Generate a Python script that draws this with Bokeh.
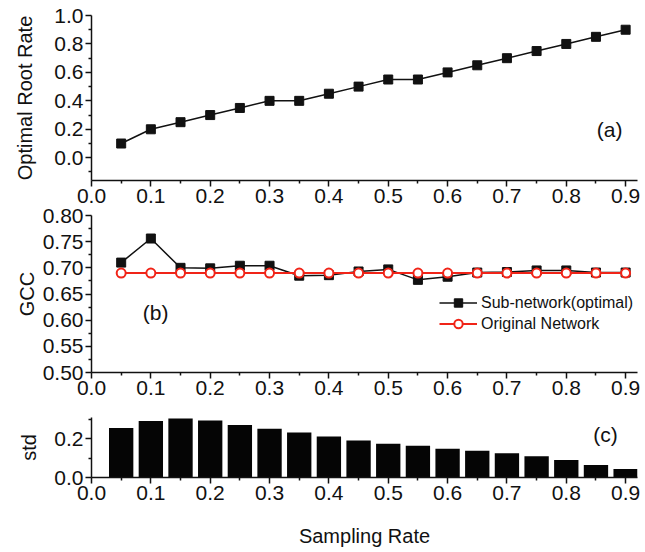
from bokeh.plotting import figure
from bokeh.layouts import column
from bokeh.models import FixedTicker, Label, Legend, LegendItem, Range1d, NumeralTickFormatter
from bokeh.embed import file_html
from bokeh.resources import INLINE

# ---------------- data ----------------
rate = [0.05, 0.10, 0.15, 0.20, 0.25, 0.30, 0.35, 0.40, 0.45,
        0.50, 0.55, 0.60, 0.65, 0.70, 0.75, 0.80, 0.85, 0.90]
root_rate = [0.10, 0.20, 0.25, 0.30, 0.35, 0.40, 0.40, 0.45, 0.50,
             0.55, 0.55, 0.60, 0.65, 0.70, 0.75, 0.80, 0.85, 0.90]
gcc_sub = [0.710, 0.756, 0.700, 0.699, 0.704, 0.704, 0.685, 0.686, 0.693,
           0.697, 0.677, 0.683, 0.691, 0.692, 0.695, 0.695, 0.691, 0.691]
gcc_orig = [0.690, 0.690, 0.690, 0.690, 0.690, 0.690, 0.690, 0.690, 0.690,
            0.690, 0.690, 0.690, 0.690, 0.690, 0.690, 0.690, 0.690, 0.690]
std = [0.256, 0.292, 0.305, 0.294, 0.271, 0.252, 0.232, 0.212, 0.191,
       0.174, 0.164, 0.148, 0.138, 0.125, 0.110, 0.091, 0.065, 0.044]

x_major = [0.0, 0.1, 0.2, 0.3, 0.4, 0.5, 0.6, 0.7, 0.8, 0.9]
x_minor = [0.05, 0.15, 0.25, 0.35, 0.45, 0.55, 0.65, 0.75, 0.85]
a_major = [0.0, 0.2, 0.4, 0.6, 0.8, 1.0]
a_minor = [-0.1, 0.1, 0.3, 0.5, 0.7, 0.9]
b_major = [0.50, 0.55, 0.60, 0.65, 0.70, 0.75, 0.80]
b_minor = [0.525, 0.575, 0.625, 0.675, 0.725, 0.775]
c_major = [0.0, 0.2]
c_minor = [0.1, 0.3]

FONT = "Liberation Sans"
TICK_FS = "21px"
TITLE_FS = "20px"
BLACK = "#111111"
RED = "#f02418"


def style(p, xfmt, yfmt, xmaj, xmin, ymaj, ymin, ylab_standoff):
    p.outline_line_color = None
    p.grid.visible = False
    p.xaxis.ticker = FixedTicker(ticks=xmaj, minor_ticks=xmin)
    p.yaxis.ticker = FixedTicker(ticks=ymaj, minor_ticks=ymin)
    p.xaxis.formatter = NumeralTickFormatter(format=xfmt)
    p.yaxis.formatter = NumeralTickFormatter(format=yfmt)
    for ax in (p.xaxis, p.yaxis):
        ax.axis_line_color = BLACK
        ax.axis_line_width = 1.5
        ax.major_tick_line_color = BLACK
        ax.major_tick_line_width = 1.5
        ax.minor_tick_line_color = BLACK
        ax.minor_tick_line_width = 1.5
        ax.major_tick_in = 0
        ax.major_tick_out = 6
        ax.minor_tick_in = 0
        ax.minor_tick_out = 3
        ax.major_label_text_font = FONT
        ax.major_label_text_font_size = TICK_FS
        ax.major_label_text_color = BLACK
        ax.major_label_standoff = 2
        ax.axis_label_text_font = FONT
        ax.axis_label_text_font_size = TITLE_FS
        ax.axis_label_text_font_style = "normal"
        ax.axis_label_text_color = BLACK
    p.yaxis.axis_label_standoff = ylab_standoff


common = dict(width=645, output_backend="svg", toolbar_location=None,
              min_border_left=91, min_border_right=8)

# ---------------- panel (a) ----------------
p1 = figure(height=215, x_range=Range1d(0, 0.92), y_range=Range1d(-0.16, 1.0),
            min_border_top=15, min_border_bottom=35, **common)
p1.line(rate, root_rate, line_color=BLACK, line_width=1.5)
p1.scatter(rate, root_rate, marker="square", size=9, color=BLACK)
style(p1, "0.0", "0.0", x_major, x_minor, a_major, a_minor, 15)
p1.yaxis.axis_label = "Optimal Root Rate"
p1.add_layout(Label(x=0.873, y=0.20, text="(a)", text_font=FONT, text_font_size="21px",
                    text_align="center", text_baseline="middle", text_color=BLACK))

# ---------------- panel (b) ----------------
p2 = figure(height=205, x_range=p1.x_range, y_range=Range1d(0.50, 0.80),
            min_border_top=15, min_border_bottom=33, margin=(-15, 0, 0, 0), **common)
p2.border_fill_color = None
l1 = p2.line(rate, gcc_sub, line_color=BLACK, line_width=1.5)
s1 = p2.scatter(rate, gcc_sub, marker="square", size=9, color=BLACK)
l2 = p2.line(rate, gcc_orig, line_color=RED, line_width=2)
s2 = p2.scatter(rate, gcc_orig, marker="circle", size=9, line_color=RED,
                line_width=2, fill_color="white")
style(p2, "0.0", "0.00", x_major, x_minor, b_major, b_minor, 2)
p2.yaxis.axis_label = "GCC"
p2.add_layout(Label(x=0.108, y=0.615, text="(b)", text_font=FONT, text_font_size="21px",
                    text_align="center", text_baseline="middle", text_color=BLACK))
legend = Legend(items=[LegendItem(label="Sub-network(optimal)", renderers=[l1, s1]),
                       LegendItem(label="Original Network", renderers=[l2, s2])],
                location=(348, 38), orientation="vertical")
legend.glyph_width = 38
legend.glyph_height = 21
legend.label_height = 21
legend.label_standoff = 4
legend.padding = 0
legend.margin = 0
legend.spacing = 0
legend.border_line_color = None
legend.background_fill_alpha = 0
legend.label_text_font = FONT
legend.label_text_font_size = "16px"
legend.label_text_color = BLACK
p2.add_layout(legend)

# ---------------- panel (c) ----------------
p3 = figure(height=147, x_range=p1.x_range, y_range=Range1d(0.0, 0.31),
            min_border_top=12, min_border_bottom=75, **common)
p3.vbar(x=rate, top=std, width=0.041, bottom=0, fill_color="#050505", line_color=None)
style(p3, "0.0", "0.0", x_major, x_minor, c_major, c_minor, 11)
p3.yaxis.axis_label = "std"
p3.xaxis.axis_label = "Sampling Rate"
p3.xaxis.axis_label_standoff = 22
p3.add_layout(Label(x=0.866, y=0.22, text="(c)", text_font=FONT, text_font_size="21px",
                    text_align="center", text_baseline="middle", text_color=BLACK))

layout = column(p1, p2, p3, spacing=0)
open("out.html", "w").write(file_html(layout, INLINE))
